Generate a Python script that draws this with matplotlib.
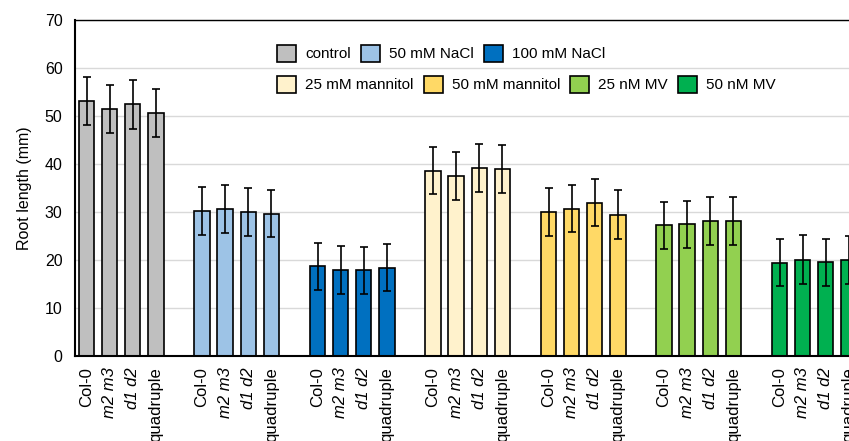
import numpy as np
import matplotlib
matplotlib.use("Agg")
from matplotlib import pyplot as plt
from matplotlib.patches import Patch

plt.rcParams['font.family'] = ['Liberation Sans', 'DejaVu Sans']

genotypes = ['Col-0', 'm2 m3', 'd1 d2', 'quadruple']
italic_labels = ['m2 m3', 'd1 d2']
treatments = ['control', '50 mM NaCl', '100 mM NaCl',
              '25 mM mannitol', '50 mM mannitol', '25 nM MV', '50 nM MV']
colors = ['#BFBFBF', '#9DC3E6', '#0070C0', '#FFF2CC', '#FFD966', '#92D050', '#00B050']

# root length (mm), one row per treatment, columns = genotypes
means = [
    [53.1, 51.5, 52.4, 50.6],
    [30.2, 30.6, 29.9, 29.6],
    [18.7, 18.0, 17.9, 18.4],
    [38.6, 37.6, 39.2, 39.0],
    [29.9, 30.7, 31.9, 29.4],
    [27.2, 27.4, 28.1, 28.1],
    [19.4, 20.1, 19.5, 20.1],
]
errors = [
    [5.0, 5.0, 5.1, 5.0],
    [5.0, 5.0, 5.0, 4.9],
    [4.9, 5.0, 4.9, 4.9],
    [4.9, 5.0, 5.0, 5.0],
    [5.0, 4.9, 4.9, 5.1],
    [4.9, 4.9, 5.0, 5.0],
    [4.9, 5.1, 4.9, 5.0],
]

W, H = 849, 441
fig = plt.figure(figsize=(W / 100, H / 100), dpi=100)
slot = 23.1
ax = fig.add_axes([75 / W, (H - 356) / H, 34 * slot / W, 336 / H])

xpos, xlabels = [], []
for g, (m, e, c) in enumerate(zip(means, errors, colors)):
    x = g * 5 + np.arange(4)
    ax.bar(x, m, width=0.67, color=c, edgecolor='black', linewidth=1.2, zorder=2)
    ax.errorbar(x, m, yerr=e, fmt='none', ecolor='black', elinewidth=1.2,
                capsize=2.6, capthick=1.2, zorder=3)
    xpos.extend(x)
    xlabels.extend(genotypes)

ax.set_xlim(-0.5, 33.5)
ax.set_ylim(0, 70)
ax.set_yticks(range(0, 71, 10))
ax.yaxis.grid(True, color='#D9D9D9', linewidth=1, zorder=0)
ax.set_axisbelow(True)

ax.set_xticks(xpos)
ax.set_xticklabels(xlabels, rotation=90, ha='center', va='top')
for lbl in ax.get_xticklabels():
    if lbl.get_text() in italic_labels:
        lbl.set_fontstyle('italic')

ax.tick_params(axis='both', length=0, colors='black')
ax.tick_params(axis='y', pad=9, labelsize=11.5)
ax.tick_params(axis='x', pad=8, labelsize=12)
ax.set_ylabel('Root length (mm)', fontsize=11.5, labelpad=9)

for side in ['left', 'bottom', 'top']:
    ax.spines[side].set_color('black')
ax.spines['left'].set_linewidth(1.5)
ax.spines['bottom'].set_linewidth(1.5)
ax.spines['top'].set_linewidth(1.0)
ax.spines['right'].set_visible(False)

handles = [Patch(facecolor=c, edgecolor='black', linewidth=1.2) for c in colors]
legkw = dict(frameon=False, fontsize=11, handlelength=1.25, handleheight=1.3,
             handletextpad=0.6, columnspacing=0.65, borderpad=0, borderaxespad=0,
             loc='upper left')
leg1 = fig.legend(handles[:3], treatments[:3], ncol=3,
                  bbox_to_anchor=(277 / W, 1 - 45 / H), **legkw)
leg2 = fig.legend(handles[3:], treatments[3:], ncol=4,
                  bbox_to_anchor=(277 / W, 1 - 76 / H), **legkw)

fig.savefig('out.png', dpi=100)
